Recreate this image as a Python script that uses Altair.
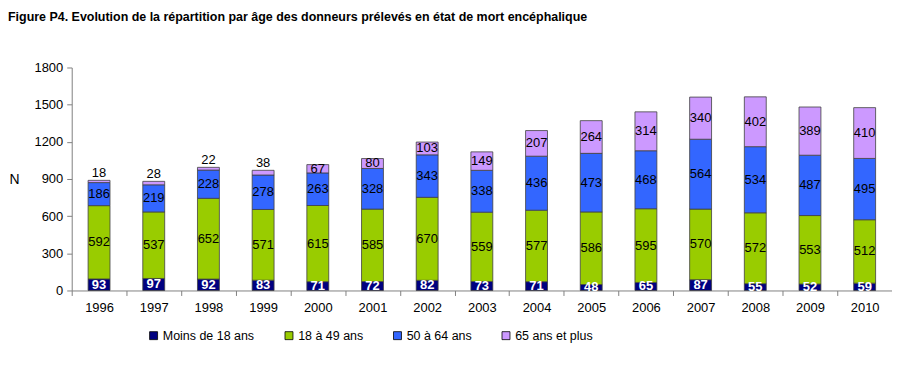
import altair as alt
import pandas as pd

years = ["1996", "1997", "1998", "1999", "2000", "2001", "2002", "2003",
         "2004", "2005", "2006", "2007", "2008", "2009", "2010"]
groups = ["Moins de 18 ans", "18 à 49 ans", "50 à 64 ans", "65 ans et plus"]
colors = ["#000080", "#99CC00", "#3366FF", "#CC99FF"]
moins18 = [93, 97, 92, 83, 71, 72, 82, 73, 71, 48, 65, 87, 55, 52, 59]
a18_49 = [592, 537, 652, 571, 615, 585, 670, 559, 577, 586, 595, 570, 572, 553, 512]
a50_64 = [186, 219, 228, 278, 263, 328, 343, 338, 436, 473, 468, 564, 534, 487, 495]
a65 = [18, 28, 22, 38, 67, 80, 103, 149, 207, 264, 314, 340, 402, 389, 410]
y_ticks = [0, 300, 600, 900, 1200, 1500, 1800]

series = [moins18, a18_49, a50_64, a65]
rows = []
for i, y in enumerate(years):
    base = 0
    for k, g in enumerate(groups):
        v = series[k][i]
        rows.append({"year": y, "group": g, "order": k, "value": v,
                     "y0": base, "y1": base + v, "mid": base + v / 2,
                     "small": v < 50})
        base += v
df = pd.DataFrame(rows)

FONT = "Liberation Sans"

x_enc = alt.X("year:N", sort=years, title=None,
              scale=alt.Scale(domain=years, paddingInner=0, paddingOuter=0, round=False),
              axis=alt.Axis(tickBand="extent", labelAngle=0, labelFontSize=13,
                            labelFont=FONT, labelColor="black", domainColor="#808080",
                            tickColor="#808080", tickSize=5, labelPadding=6))
y_scale = alt.Scale(domain=[0, 1800])
y_axis = alt.Axis(values=y_ticks, grid=False, labelFontSize=13, labelFont=FONT,
                  labelColor="black", domainColor="#808080", tickColor="#808080",
                  tickSize=5, labelPadding=4, labelOverlap=False, format="d",
                  titleAngle=0, titleFont=FONT,
                  titleFontSize=14, titleFontWeight="normal", titleX=-58,
                  titleY=113, titleAlign="center", titleBaseline="middle")

def yenc(field):
    return alt.Y(field, type="quantitative", scale=y_scale, title="N", axis=y_axis)

bars = alt.Chart(df).mark_bar(size=22, stroke="#404040", strokeWidth=0.8).encode(
    x=x_enc,
    y=yenc("y0"),
    y2="y1:Q",
    color=alt.Color("group:N", sort=groups,
                    scale=alt.Scale(domain=groups, range=colors),
                    legend=alt.Legend(title=None, orient="none", direction="horizontal",
                                      legendX=76, legendY=263, labelFont=FONT,
                                      labelFontSize=12.5, labelColor="black",
                                      symbolType="square", symbolSize=64,
                                      symbolStrokeColor="black", symbolStrokeWidth=0.8,
                                      symbolOpacity=1, columnPadding=28, labelOffset=3)),
    order=alt.Order("order:Q"),
)

mid_text = alt.Chart(df).transform_filter("!datum.small && datum.order > 0").mark_text(
    fontSize=13, font=FONT, baseline="middle", color="black").encode(
    x=x_enc, y=yenc("mid"), text="value:Q",
)
navy_bold = alt.Chart(df).transform_filter("datum.order == 0").mark_text(
    fontSize=13, font=FONT, baseline="middle", fontWeight="bold", color="white").encode(
    x=x_enc, y=yenc("mid"), text="value:Q",
)
top_text = alt.Chart(df).transform_filter("datum.small && datum.order > 0").mark_text(
    fontSize=13, font=FONT, baseline="bottom", dy=0, color="black").encode(
    x=x_enc, y=yenc("y1"), text="value:Q",
)

chart = alt.layer(bars, mid_text, navy_bold, top_text).properties(
    width=824, height=224,
    background="white",
    autosize=alt.AutoSizeParams(type="none"),
    padding={"left": 64, "top": 59, "right": 0, "bottom": 55},
    title=alt.TitleParams("Figure P4. Evolution de la répartition par âge des donneurs prélevés en état de mort encéphalique",
                          anchor="start", frame="group", dx=-64, offset=38,
                          font=FONT, fontSize=12.5, fontWeight="bold", color="black"),
).configure_view(strokeWidth=0, stroke="transparent").configure_axisY(labelOverlap=False)

chart.save("out.html", embed_options={"renderer": "svg", "actions": False})
